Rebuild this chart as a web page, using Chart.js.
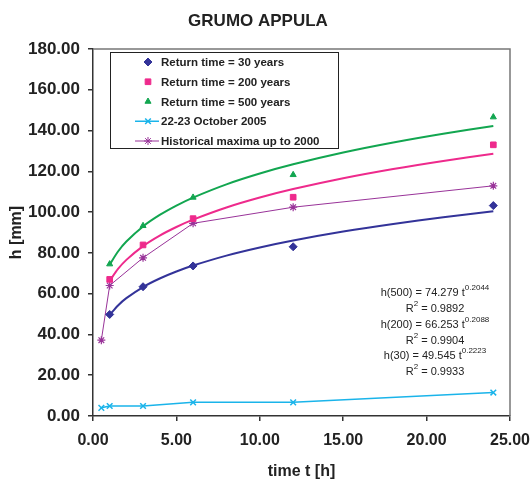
<!DOCTYPE html>
<html>
<head>
<meta charset="utf-8">
<script src="https://cdn.jsdelivr.net/npm/chart.js@4/dist/chart.umd.min.js"></script>
<style>
  body { margin: 0; background: #fff; }
  canvas { display: block; }
</style>
</head>
<body>
<canvas id="chart" width="532" height="481"></canvas>
<script>
// observed points (t in hours, h in mm)
const tReturn = [1, 3, 6, 12, 24];
const h30 = [49.8, 63.4, 73.6, 83.0, 103.2];
const h200 = [67.0, 83.9, 96.8, 107.3, 133.0];
const h500 = [74.5, 93.3, 107.2, 118.3, 146.6];

const tEvent = [0.5, 1, 3, 6, 12, 24];
const hOct2005 = [4.0, 4.9, 4.9, 6.7, 6.7, 11.5];
const hHistMax = [37.2, 64.0, 77.6, 94.5, 102.4, 112.9];

// trend lines
const tFit = [1, 1.5, 2, 3, 4, 5, 6, 8, 10, 12, 15, 18, 21, 24];
const fit30 = [49.55, 54.22, 57.80, 63.25, 67.43, 70.86, 73.79, 78.66, 82.66, 86.08, 90.46, 94.20, 97.48, 100.42];
const fit200 = [66.25, 72.11, 76.57, 83.33, 88.49, 92.71, 96.31, 102.27, 107.15, 111.31, 116.62, 121.15, 125.11, 128.65];
const fit500 = [74.28, 80.70, 85.58, 92.98, 98.61, 103.21, 107.13, 113.62, 118.92, 123.44, 129.20, 134.11, 138.40, 142.23];

const equations = [
    ['h(500) = 74.279 t', '0.2044'],
    ['R', '2', ' = 0.9892'],
    ['h(200) = 66.253 t', '0.2088'],
    ['R', '2', ' = 0.9904'],
    ['h(30) = 49.545 t', '0.2223'],
    ['R', '2', ' = 0.9933']
];

const blue = '#333399';
const pink = '#ee2a8c';
const green = '#12a650';
const cyan = '#1ab4ea';
const purple = '#993399';

const pts = (xs, ys) => xs.map((x, i) => ({ x: x, y: ys[i] }));

const legendItems = [
    { text: 'Return time = 30 years', line: false, color: blue, style: 'rectRot', r: 4 },
    { text: 'Return time = 200 years', line: false, color: pink, style: 'rect', r: 4 },
    { text: 'Return time = 500 years', line: false, color: green, style: 'triangle', r: 3.5 },
    { text: '22-23 October 2005', line: true, color: cyan, style: 'crossRot', r: 4 },
    { text: 'Historical maxima up to 2000', line: true, color: purple, style: 'star', r: 4 }
];

const FONT = '"Liberation Sans", Arial, sans-serif';

const decor = {
    id: 'decor',
    beforeDraw(chart) {
        const ctx = chart.ctx;
        ctx.save();
        ctx.fillStyle = '#fff';
        ctx.fillRect(0, 0, chart.width, chart.height);
        ctx.restore();
    },
    afterDatasetsDraw(chart) {
        const ctx = chart.ctx;
        const a = chart.chartArea;
        ctx.save();
        // top / right frame
        ctx.strokeStyle = '#777';
        ctx.lineWidth = 1.5;
        ctx.beginPath();
        ctx.moveTo(a.left, a.top);
        ctx.lineTo(a.right, a.top);
        ctx.lineTo(a.right, a.bottom);
        ctx.stroke();

        // title
        ctx.fillStyle = '#222';
        ctx.font = 'bold 17px ' + FONT;
        ctx.textAlign = 'center';
        ctx.textBaseline = 'middle';
        ctx.fillText('GRUMO APPULA', 258, 21);

        // legend box
        ctx.fillStyle = '#fff';
        ctx.fillRect(110, 52, 228, 96);
        ctx.strokeStyle = '#222';
        ctx.lineWidth = 1;
        ctx.strokeRect(110.5, 52.5, 228, 96);
        ctx.font = 'bold 11.5px ' + FONT;
        ctx.textAlign = 'left';
        legendItems.forEach((it, i) => {
            const y = 62 + i * 19.75;
            ctx.strokeStyle = it.color;
            ctx.fillStyle = it.color;
            if (it.line) {
                ctx.lineWidth = it.color === cyan ? 1.5 : 1;
                ctx.beginPath();
                ctx.moveTo(135, y);
                ctx.lineTo(159, y);
                ctx.stroke();
            }
            Chart.helpers.drawPoint(ctx, {
                pointStyle: it.style, radius: it.r, rotation: 0, borderWidth: it.line ? 1.5 : 1
            }, 148, y);
            ctx.fillStyle = '#222';
            ctx.fillText(it.text, 161, y + 1);
        });

        // equations
        ctx.fillStyle = '#222';
        const ys = [293, 309, 325, 341, 356, 372];
        equations.forEach((parts, i) => {
            const main = '11px ' + FONT;
            const sup = '8px ' + FONT;
            const segs = parts.map((p, k) => ({ text: p, sup: k === 1 }));
            let w = 0;
            segs.forEach(s => { ctx.font = s.sup ? sup : main; s.w = ctx.measureText(s.text).width; w += s.w; });
            let x = 435 - w / 2;
            segs.forEach(s => {
                ctx.font = s.sup ? sup : main;
                ctx.fillText(s.text, x, s.sup ? ys[i] - 5 : ys[i]);
                x += s.w;
            });
        });
        ctx.restore();
    }
};

const lineFit = (data, color) => ({
    type: 'line', data: data, borderColor: color, borderWidth: 2,
    pointRadius: 0, fill: false, tension: 0.3, order: 2
});

const xFont = { family: FONT, size: 16, weight: 'bold' };
const yFont = { family: FONT, size: 17, weight: 'bold' };

new Chart(document.getElementById('chart'), {
    type: 'scatter',
    data: {
        datasets: [
            { label: 'Return time = 30 years', data: pts(tReturn, h30), pointStyle: 'rectRot',
              pointRadius: 4, backgroundColor: blue, borderColor: blue, order: 1 },
            { label: 'Return time = 200 years', data: pts(tReturn, h200), pointStyle: 'rect',
              pointRadius: 4, backgroundColor: pink, borderColor: pink, order: 1 },
            { label: 'Return time = 500 years', data: pts(tReturn, h500), pointStyle: 'triangle',
              pointRadius: 3.5, backgroundColor: green, borderColor: green, order: 1 },
            { label: '22-23 October 2005', type: 'line', data: pts(tEvent, hOct2005), pointStyle: 'crossRot',
              pointRadius: 4, pointBorderWidth: 1.5, borderWidth: 1.5, borderColor: cyan,
              backgroundColor: cyan, fill: false, order: 1 },
            { label: 'Historical maxima up to 2000', type: 'line', data: pts(tEvent, hHistMax), pointStyle: 'star',
              pointRadius: 4, pointBorderWidth: 1.2, borderWidth: 1, borderColor: purple,
              backgroundColor: purple, fill: false, order: 1 },
            lineFit(pts(tFit, fit30), blue),
            lineFit(pts(tFit, fit200), pink),
            lineFit(pts(tFit, fit500), green)
        ]
    },
    options: {
        responsive: false,
        animation: false,
        layout: { padding: { top: 49, right: 22, left: 0, bottom: 0 } },
        plugins: { legend: { display: false }, tooltip: { enabled: false } },
        scales: {
            x: {
                type: 'linear', min: 0, max: 25,
                afterFit: s => { s.height = 65; s.paddingLeft = 0; s.paddingRight = 0; },
                ticks: { stepSize: 5, padding: 10, color: '#222', font: xFont,
                         callback: v => v.toFixed(2) },
                grid: { drawOnChartArea: false, drawTicks: true, tickLength: 5, color: '#333', lineWidth: 1.5 },
                border: { display: true, color: '#333', width: 1.5 },
                title: { display: true, text: 'time t [h]', color: '#222', padding: { top: 3, bottom: 0 },
                         font: xFont }
            },
            y: {
                min: 0, max: 180,
                afterFit: s => { s.width = 93; s.paddingTop = 0; s.paddingBottom = 0; },
                ticks: { stepSize: 20, padding: 8, color: '#222', font: yFont,
                         callback: v => v.toFixed(2) },
                grid: { drawOnChartArea: false, drawTicks: true, tickLength: 5, color: '#333', lineWidth: 1.5 },
                border: { display: true, color: '#333', width: 1.5 },
                title: { display: true, text: 'h [mm]', color: '#222', padding: { top: 7, bottom: 0 },
                         font: xFont }
            }
        }
    },
    plugins: [decor]
});
</script>
</body>
</html>
